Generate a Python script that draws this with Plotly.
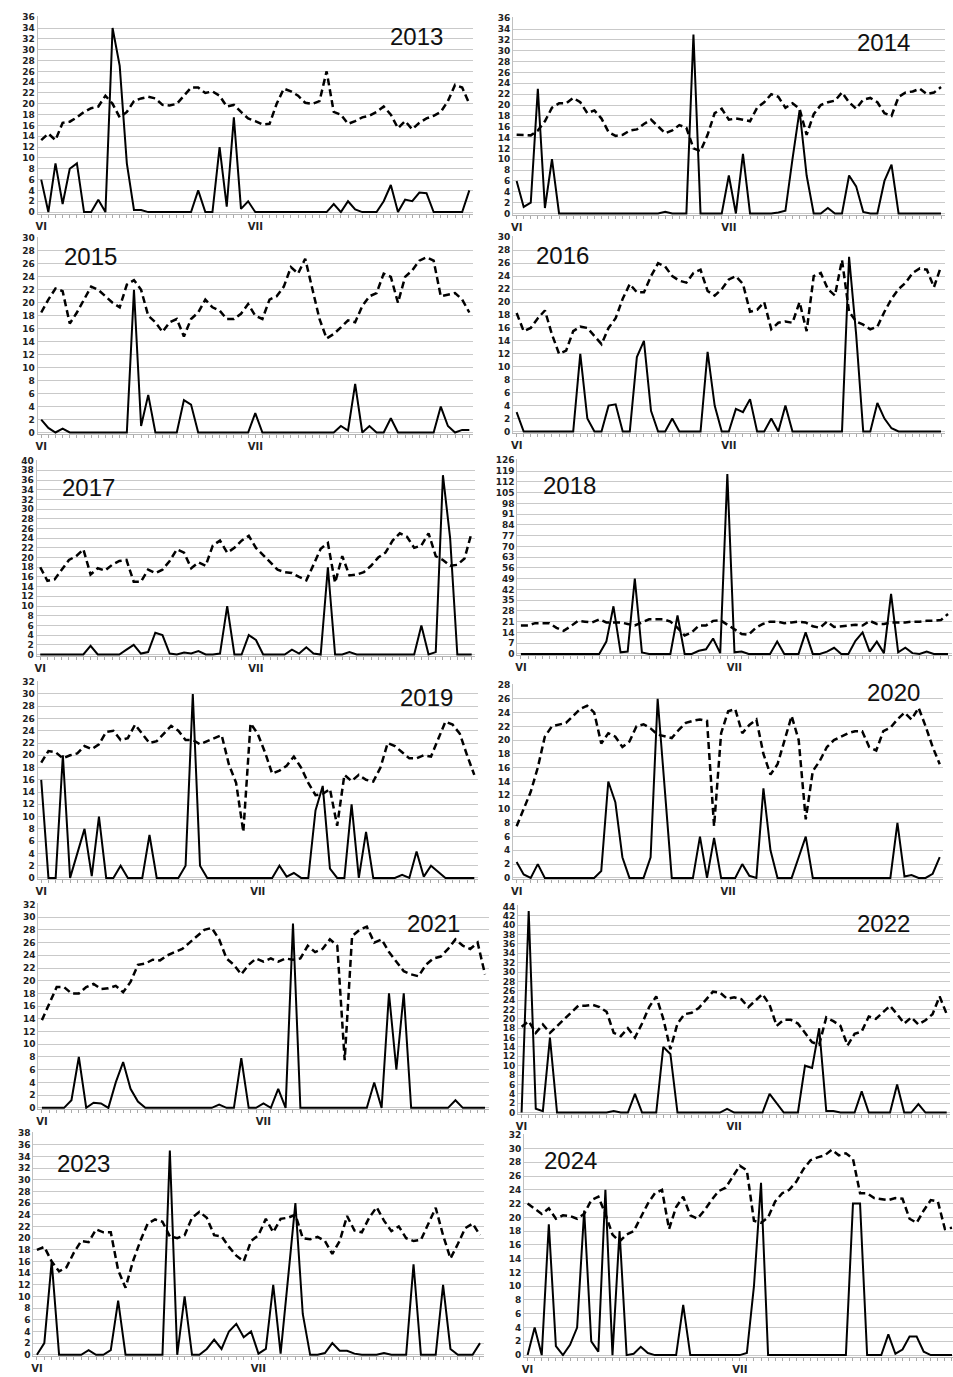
import plotly.graph_objects as go

W, H = 953, 1377

YEARS = ["2013", "2014", "2015", "2016", "2017", "2018",
         "2019", "2020", "2021", "2022", "2023", "2024"]
MONTH_LABELS = ["VI", "VII"]
DAYS = list(range(61))

rain_2013 = [6,0,9,1.5,8,9,0,0,2.3,0, 34,27,9,0.4,0.4,0,0,0,0,0, 0,0,4,0,0,12,1,17.5,0.6,2,
             0,0,0,0,0,0,0,0,0,0, 0,1.5,0,2,0.5,0,0,0,2,5, 0,2.3,2,3.6,3.5,0,0,0,0,0, 4]
temp_2013 = [13.3,14.5,13.3,16.5,16.7,17.5,18.5,19.2,19.5,21.5, 20,17.5,18.5,20.5,21,21.3,21,19.8,19.7,20,
             21.5,23,23,22,22.3,21.5,19.5,19.8,18.5,17.3, 16.8,16.2,16.3,20,22.8,22.3,21.5,20.2,20,20.5,
             26,18.5,18,16.3,16.8,17.5,17.8,18.5,19.5,18, 15.5,16.8,15.3,16.5,17.3,17.8,18.5,20.5,23.5,23, 20]

rain_2014 = [6,1.2,2,23,1,10,0,0,0,0, 0,0,0,0,0,0,0,0,0,0, 0,0.3,0,0,0,33,0,0,0,0,
             7,0,11,0,0,0,0,0.2,0.5,10, 19,7,0,0,1,0,0,7,5,0.3, 0,0,6,9,0,0,0,0,0,0, 0]
temp_2014 = [14.5,14.5,14.4,15.3,17,19.5,20.3,20.3,21.3,20.5, 18.5,19,17.5,15,14.3,14.5,15.3,15.5,16.5,17.3,
             16,14.8,15.3,16.3,15.8,12,11.5,14.5,18.5,19.3, 17.3,17.5,17.3,17,19.5,20.5,22,21.5,19.5,20.3,
             19.3,14.5,18.3,20,20.5,20.8,22.3,20.5,19.3,21, 21.3,20.5,18.5,18,21.5,22.3,22.5,23,22,22.3, 23.3]

rain_2015 = [2,0.7,0,0.6,0,0,0,0,0,0, 0,0,0,22,1,5.8,0,0,0,0, 5,4.3,0,0,0,0,0,0,0,0,
             3,0,0,0,0,0,0,0,0,0, 0,0,1,0.3,7.5,0,1,0,0,2.2, 0,0,0,0,0,0,4,1,0,0.4, 0.4]
temp_2015 = [18.5,20.5,22.2,21.8,16.8,18.5,20.5,22.5,22,21, 20,19.3,22.8,23.5,22,18,17,15.5,17,17.5,
             14.8,17.5,18.5,20.5,19.3,18.8,17.5,17.5,18.3,19.8, 18,17.5,20.5,21,22.5,25.5,24.5,26.8,22,17.5,
             14.5,15.2,16.2,17.3,17,19.5,21,21.5,24.5,24, 20,24,25,26.5,27,26.5,21,21.2,21.5,20.5, 18.5]

rain_2016 = [3,0,0,0,0,0,0,0,0,12, 2,0,0,4,4.2,0,0,11.5,14,3.2, 0,0,2,0,0,0,0,12.3,4,0,
             0,3.5,3,5,0,0,2,0,4,0, 0,0,0,0,0,0,0,27,15,0, 0,4.4,2,0.5,0,0,0,0,0,0, 0]
temp_2016 = [18.3,15.5,16,17.5,18.7,15,12,12.5,15.5,16.2, 16,14.8,13.5,16,17.5,20.5,22.8,21.5,21.5,24,
             26,25.5,24,23.3,23,24.5,25,21.7,21,22, 23.5,24,22.8,18.5,18.8,20,15.8,16.8,17,16.8,
             20,15.5,24,24.5,22,21,26.5,18.5,17,16.5, 15.8,16.2,18.5,20.5,22,23,24.5,25.2,25,22.3, 25.5]

rain_2017 = [0,0,0,0,0,0,0,1.8,0,0, 0,0,1,2,0.2,0.5,4.5,4,0.2,0, 0.4,0.2,0.7,0,0,0.2,10,0,0,4,
             3,0,0,0,0,1,0.2,1.5,0.2,0, 18,0,0,0.5,0,0,0,0,0,0, 0,0,0,6,0,0.5,37,24,0,0, 0]
temp_2017 = [18,15.2,15.5,17.5,19.5,20.3,21.7,16.5,17.8,17.3, 18.5,19.3,19.5,15,15,17.5,16.8,17.5,19.3,21.7,
             21,17.8,19,18.3,22.5,23.5,21,22,23.5,24.5, 22,20.5,19,17.5,17,16.8,16,15.3,18.5,21.8,
             23,14.8,20.3,16.3,16.5,17,18.3,20,21,23.5, 25,24.3,22,22.5,25,20.3,19.5,18.3,18.5,19.8, 25.2]

rain_2018 = [0,0,0,0,0,0,0,0,0,0, 0,0,8,31,1,1.5,49,1,0,0, 0,0,25,0,0,2,3,10,0.5,117,
             1,1.5,0,0,0,0,8,0,0,0, 14,0,0,1.5,4,0,0,8.5,14,1.5, 8,0.5,39,1,4,0.5,0,1.5,0,0, 0]
temp_2018 = [18.5,18.5,20,20,20,17,15,18,21.5,21, 20.5,22.5,20.5,20.5,20.5,19.5,18.5,20.5,22.5,22.5,
             22.5,21,17,12,14,18.5,18.5,21.5,22,19, 16,13,12.5,17,19.5,21,21,20,20.5,21,
             20.5,18,17,21,17.5,18,18.5,19,18.5,21.5, 19.5,19.5,20.5,20.5,20.5,21,21,21.5,21.5,22, 26]

rain_2019 = [16,0,0,20,0,4,8,0.3,10,0, 0,2,0,0,0,7,0,0,0,0, 2,30,2,0,0,0,0,0,0,0,
             0,0,0,2,0.2,0.8,0,0,11,15, 1.5,0,0,12,0,7.5,0,0,0,0, 0.5,0,4.3,0.2,2,1,0,0,0,0, 0]
temp_2019 = [18.8,20.7,20.5,19.5,20,20.3,21.5,21,21.8,23.8, 24,22.5,22.8,25,23.5,22,22.3,23.5,24.8,24,
             22.5,22.5,21.8,22.3,22.8,23.3,18.5,15.5,7.5,25.2, 23.5,20.5,17,17.5,18.3,19.8,18,15.5,13.5,13.7,
             14.5,8.5,16.8,15.8,16.8,16,15.7,18,22,21.5, 20.5,19.5,19.5,20,19.8,22.5,25.5,25,23.5,20, 16.8]

rain_2020 = [2.3,0.5,0,2,0,0,0,0,0,0, 0,0,1,14,11,3,0,0,0,3, 26,13,0,0,0,0,6,0,5.8,0,
             0,0,2,0.3,0,13,4,0,0,0, 3,6,0,0,0,0,0,0,0,0, 0,0,0,0,8,0.2,0.4,0,0,0.6, 3]
temp_2020 = [7.5,10,12.5,16,20.5,22,22.3,22.5,23.5,24.5, 25,24,19.5,21,20.5,19,19.8,22,22.3,21.7,
             20.8,20.5,20.3,21.5,22.5,22.8,23,22.8,7.5,21, 24.2,24.5,21,22.2,23,18,15,16.5,20,23.5,
             20,8.5,15.5,17,19,20,20.5,21,21.3,21.3, 19,18.5,21.3,21.8,23,24,23,24.7,22,19, 16.5]

rain_2021 = [0,0,0,0,1.2,8,0,0.8,0.7,0, 4,7.2,3,1,0,0,0,0,0,0, 0,0,0,0,0.5,0,0,7.8,0,0,
             0.7,0,3,0,29,0,0,0,0,0, 0,0,0,0,0,4,0,18,6,18, 0,0,0,0,0,0,1.2,0,0,0, 0]
temp_2021 = [13.8,16.5,19,19,18,18,19,19.5,18.7,18.8, 19.2,18.2,19.8,22.5,22.7,23.3,23.2,24,24.5,25,
             26,27,28,28.3,26.5,23.5,22.5,21,22.5,23.5, 23,23.5,23,23.5,23.3,23.5,25.5,24.5,25,26.5,
             25.5,7.5,27,28,28.5,26,26.5,24.5,23,21.5, 21,20.7,22.5,23.5,23.8,25,26.5,25.5,25,26, 21]

rain_2022 = [0,43,0.8,0.3,16,0,0,0,0,0, 0,0,0,0.3,0,0,4,0,0,0, 14,12.5,0,0,0,0,0,0,0,0.8,
             0,0,0,0,0,4,2,0,0,0, 10,9.5,18,0.3,0.3,0,0,0,4.5,0, 0,0,0,6,0,0,1.8,0,0,0, 0]
temp_2022 = [18.3,19.5,17,18.8,17,18.5,19.8,21.5,22.8,22.8, 23,22.5,21.5,17,16.3,18,16,19,22.5,24.8,
             20,13.5,19,21,21.3,22.3,24,25.8,25.6,24.3, 24.6,24.2,22.5,24,25.3,23,18.5,19.8,19.8,19,
             17,15,14.5,20.3,19.5,18.5,14.3,16.8,17.3,20.5, 20,21.5,22.8,21,19,20.3,18.8,19.7,21,24.8, 21]

rain_2023 = [0,2,16,0,0,0,0,0.8,0,0, 0.8,9.3,0,0,0,0,0,0,35,0, 10,0,0,1,2.6,1,4,5.3,3,4,
             0.2,1,12,0.2,13,26,7,0,0,0.3, 2,0.7,0.7,0.2,0,0,0,0.3,0,0, 0,15.5,0,0,0,12,1,0,0,0, 2]
temp_2023 = [18,18.5,16,14.3,15,17.5,19.5,19.3,21.5,21, 21,14.5,11.5,16,19.5,22.5,23.2,22.8,20.3,20,
             20.5,23.5,24.5,23.5,20.5,20.3,18.5,17,16,19.5, 20.5,23.3,21,23.3,23.5,24,20,19.8,20.2,19.5,
             17.3,19.5,23.8,21.3,21,23.5,25.3,23,21.2,22, 20,19.5,19.7,22.5,25.2,20.5,16.5,19,21.7,22.5, 20.5]

rain_2024 = [0,4,0,19,1.3,0,1.5,4,21,2, 0.5,24,0,18,0,0.2,1.2,0.3,0,0, 0,0,7.3,0,0,0,0,0,0,0,
             0,0.3,10,25,0,0,0,0,0,0, 0,0,0,0,0,0,22,22,0,0, 0,3,0.2,0.8,2.7,2.7,0.5,0,0,0, 0]
temp_2024 = [22,21.3,20.5,21.3,19.8,20.3,20.2,19.8,20.5,22.5, 23,20.5,17.5,16.5,17.5,18,20,22,23.5,24,
             18.3,21.5,23,20.3,19.8,21,22.5,23.8,24.3,26, 27.5,26.8,19.5,19.2,20,22.3,23.5,24,25.2,27,
             28.3,28.7,29,29.8,29,29.3,28.5,23.5,23.5,22.8, 22.7,22.5,22.8,22.7,19.8,19.2,21,22.5,22.3,18.3, 18.5]

RAIN = [rain_2013, rain_2014, rain_2015, rain_2016, rain_2017, rain_2018,
        rain_2019, rain_2020, rain_2021, rain_2022, rain_2023, rain_2024]
TEMP = [temp_2013, temp_2014, temp_2015, temp_2016, temp_2017, temp_2018,
        temp_2019, temp_2020, temp_2021, temp_2022, temp_2023, temp_2024]

YMAX = [36, 36, 30, 30, 40, 126, 32, 28, 32, 44, 38, 32]
YSTEP = [2, 2, 2, 2, 2, 7, 2, 2, 2, 2, 2, 2]

# layout: pixel positions of first day, last day, top tick, zero line
PANELS = [
    (39.3, 468.3, 13.3, 209.3), (515.7, 941.0, 14.3, 210.7),
    (39.3, 468.3, 235.3, 431.0), (515.7, 941.0, 234.7, 430.0),
    (38.3, 470.7, 459.3, 654.3), (520.0, 948.0, 459.0, 653.7),
    (39.3, 473.3, 681.7, 879.0), (515.7, 939.7, 685.0, 879.0),
    (40.0, 484.0, 905.7, 1110.3), (520.7, 946.7, 907.7, 1115.0),
    (35.0, 479.0, 1135.7, 1358.7), (526.7, 952.0, 1137.3, 1359.0),
]
TITLE_POS = [(415, 33), (883, 39), (89, 254), (562, 253), (87, 486), (569, 484),
             (425, 698), (893, 693), (432, 925), (883, 925), (82, 1166), (570, 1163)]

GRID = "#c9c9c9"
fig = go.Figure()
layout = dict(width=W, height=H, margin=dict(l=0, r=0, t=0, b=0),
              paper_bgcolor="white", plot_bgcolor="white", showlegend=False)
annotations = []

xticktext = ["" for _ in DAYS]
xticktext[0] = MONTH_LABELS[0]
xticktext[30] = MONTH_LABELS[1]

for i in range(12):
    k = i + 1
    sfx = "" if k == 1 else str(k)
    left, right, top, bottom = PANELS[i]
    step = (right - left) / 60.0
    dl = max(0.0, left - 0.5 * step)
    dr = min(W, right + 0.5 * step)
    xr = [(dl - left) / step, (dr - left) / step]
    ymax = YMAX[i]
    ppu = (bottom - top) / ymax
    ylo = -1.5 / ppu
    yhi = ymax + 1.0 / ppu
    db = bottom + 1.5
    dt = top - 1.0

    layout["xaxis" + sfx] = dict(
        domain=[dl / W, dr / W], range=xr, anchor="y" + sfx,
        tickmode="array", tickvals=DAYS, ticktext=xticktext,
        ticks="outside", ticklen=3, tickcolor="#aaaaaa", tickwidth=1,
        showgrid=False, zeroline=False, showline=True, linecolor="#b5b5b5", linewidth=1,
        tickfont=dict(family="DejaVu Sans", size=10, color="#222222", weight="bold"),
        fixedrange=True)
    layout["yaxis" + sfx] = dict(
        domain=[1 - db / H, 1 - dt / H], range=[ylo, yhi], anchor="x" + sfx,
        tickmode="array", tickvals=list(range(0, ymax + 1, YSTEP[i])),
        showgrid=True, gridcolor=GRID, gridwidth=1, zeroline=False,
        showline=True, linecolor="#c0c0c0", linewidth=1, ticks="",
        tickfont=dict(family="DejaVu Sans", size=9, color="#222222", weight="bold"),
        fixedrange=True)

    fig.add_trace(go.Scatter(x=DAYS, y=TEMP[i], mode="lines", xaxis="x" + sfx, yaxis="y" + sfx,
                             line=dict(color="black", width=2.5, dash="7px,4px")))
    fig.add_trace(go.Scatter(x=DAYS, y=RAIN[i], mode="lines", xaxis="x" + sfx, yaxis="y" + sfx,
                             line=dict(color="black", width=2)))

    tx, ty = TITLE_POS[i]
    annotations.append(dict(x=tx / W, y=1 - ty / H, xref="paper", yref="paper",
                            text=YEARS[i], showarrow=False, xanchor="center", yanchor="middle",
                            font=dict(family="Liberation Sans, Arial", size=24, color="#111111")))

layout["annotations"] = annotations
fig.update_layout(**layout)
fig.write_html("out.html", config={"displayModeBar": False},
               post_script="document.body.style.margin='0px';document.body.style.overflow='hidden';")
